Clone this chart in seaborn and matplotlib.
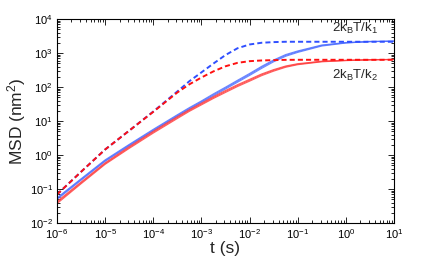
import numpy as np
import pandas as pd
import matplotlib
matplotlib.use("Agg")
import matplotlib.pyplot as plt
import seaborn as sns

# time grid (exponents of t in s)
log_t = [-6, -5.5, -5, -4.5, -4, -3.5, -3.25, -3, -2.75, -2.5, -2.25, -2,
         -1.75, -1.5, -1.25, -1, -0.5, 0, 0.5, 1]

# theory curves (dashed), MSD in nm^2
theory_k1 = [0.069, 0.32, 1.45, 5.2, 19, 74, 148, 269, 490, 871, 1380, 1780,
             2000, 2090, 2140, 2140, 2140, 2140, 2140, 2140]
theory_k2 = [0.069, 0.32, 1.45, 5.2, 18.6, 69, 120, 190, 288, 407, 513, 575,
             603, 617, 628, 631, 631, 631, 631, 631]

# measured replicates (solid)
meas_k1 = [
    [0.055, 0.20, 0.72, 2.05, 5.7, 15.3, 24.8, 39, 63, 99, 158, 250, 405, 625, 900, 1150, 1720, 2040, 2200, 2230],
    [0.052, 0.19, 0.68, 1.95, 5.4, 14.5, 23.4, 37, 59, 93, 148, 234, 380, 589, 851, 1096, 1660, 1995, 2140, 2240],
    [0.049, 0.18, 0.65, 1.85, 5.1, 13.7, 22.0, 35, 55, 87, 138, 218, 352, 550, 800, 1040, 1600, 1960, 2170, 2210],
]
meas_k2 = [
    [0.043, 0.160, 0.59, 1.76, 5.0, 13.4, 21.6, 33.5, 52, 79, 117, 168, 242, 325, 415, 485, 575, 612, 640, 650],
    [0.040, 0.151, 0.56, 1.66, 4.7, 12.6, 20.4, 31.6, 49, 74, 110, 158, 229, 309, 398, 468, 562, 603, 631, 646],
    [0.037, 0.142, 0.53, 1.56, 4.4, 11.8, 19.2, 29.7, 46, 69, 103, 148, 215, 292, 380, 452, 550, 596, 625, 640],
]

t = 10.0 ** np.array(log_t)

rows = []
for trap, reps in (("k1", meas_k1), ("k2", meas_k2)):
    for i, vals in enumerate(reps):
        rows.append(pd.DataFrame({"t": t, "msd": vals, "trap": trap, "rep": i}))
df_meas = pd.concat(rows, ignore_index=True)

sns.set_style("ticks")
plt.rcParams["font.family"] = ["Liberation Sans", "DejaVu Sans"]
plt.rcParams["mathtext.default"] = "regular"

fig = plt.figure(figsize=(4.36, 2.62), dpi=100)
ax = fig.add_axes([0.1307, 0.1489, 0.7730, 0.7786])

sns.lineplot(data=df_meas, x="t", y="msd", hue="trap", units="rep",
             estimator=None, palette={"k1": "#4a6bff", "k2": "#ff3a3a"},
             linewidth=0.8, alpha=0.8, legend=False, ax=ax)
sns.lineplot(x=t, y=theory_k1, color="#2f4fff", linewidth=1.4,
             ax=ax).lines[-1].set_dashes([2.6, 1.6])
sns.lineplot(x=t, y=theory_k2, color="#ff1010", linewidth=1.4,
             ax=ax).lines[-1].set_dashes([2.6, 1.6])

ax.set_xscale("log")
ax.set_yscale("log")
ax.set_xlim(1e-6, 10)
ax.set_ylim(1e-2, 1e4)

ax.text(0.52, 4200, "2k$_B$T/k$_1$", fontsize=9.5, ha="left", va="baseline")
ax.text(0.52, 172, "2k$_B$T/k$_2$", fontsize=9.5, ha="left", va="baseline")

ax.set_xlabel("t (s)", fontsize=12.5, labelpad=0)
ax.set_ylabel("MSD (nm$^2$)", fontsize=12.5, labelpad=1)
ax.tick_params(which="both", direction="in", top=True, right=True,
               labelsize=8, width=0.6, color="black", labelcolor="black")
ax.tick_params(which="major", length=4, pad=3)
ax.tick_params(which="minor", length=2)
for s in ax.spines.values():
    s.set_linewidth(0.8)
    s.set_color("black")

fig.savefig("out.png", dpi=100)
